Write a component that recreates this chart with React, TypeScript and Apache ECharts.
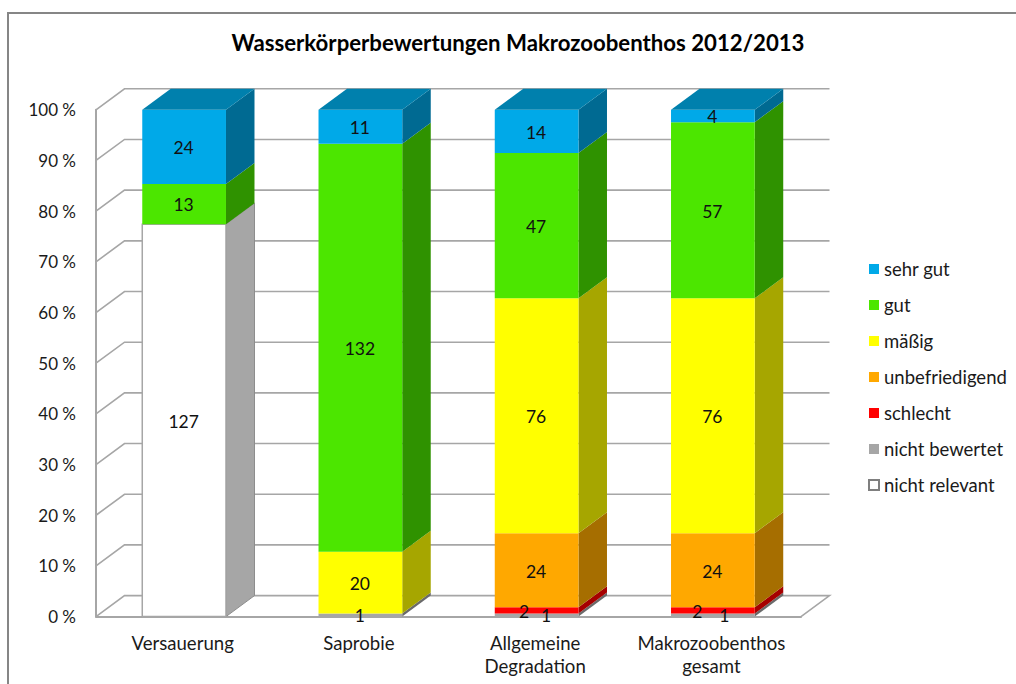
import React, { useEffect, useRef } from "react";
import * as echarts from "echarts";

const categories = ["Versauerung", "Saprobie", "Allgemeine\nDegradation", "Makrozoobenthos\ngesamt"];
const yTicks = [0, 10, 20, 30, 40, 50, 60, 70, 80, 90, 100];

const nichtRelevant = [127, 0, 0, 0];
const nichtBewertet = [0, 1, 1, 1];
const schlecht = [0, 0, 2, 2];
const unbefriedigend = [0, 0, 24, 24];
const maessig = [0, 20, 76, 76];
const gut = [13, 132, 47, 57];
const sehrGut = [24, 11, 14, 4];

// bottom to top
const stackNames = ["nicht relevant", "nicht bewertet", "schlecht", "unbefriedigend", "mäßig", "gut", "sehr gut"];
const stackValues = [nichtRelevant, nichtBewertet, schlecht, unbefriedigend, maessig, gut, sehrGut];
const frontColors = ["#ffffff", "#a6a6a6", "#ff0000", "#ffa800", "#ffff00", "#4ce600", "#00a9e8"];
const sideColors = ["#a6a6a6", "#6a6a6a", "#a60000", "#a66e00", "#a6a600", "#2f9200", "#006a92"];
const topColors = ["#c8c8c8", "#7d7d7d", "#c00000", "#c08000", "#c0c000", "#38ab00", "#0080ad"];
const legendOrder = ["sehr gut", "gut", "mäßig", "unbefriedigend", "schlecht", "nicht bewertet", "nicht relevant"];

const FONT = "Lato";
const DEPTH_X = 28.5;
const DEPTH_Y = 21;
const BAR_SHARE = 0.475;
const GRID_GREY = "#a6a6a6";
const TEXT = "#1a1a1a";

// sideways shift of the smallest labels: [series, category, dx]
const labelShifts: [number, number, number][] = [
  [1, 2, 10],
  [2, 2, -12],
  [1, 3, 12],
  [2, 3, -15],
];

const totals = categories.map((_, c) => stackValues.reduce((s, v) => s + v[c], 0));

function segments(seriesIdx: number) {
  return categories
    .map((_, c) => {
      const below = stackValues.slice(0, seriesIdx).reduce((s, v) => s + v[c], 0);
      const val = stackValues[seriesIdx][c];
      return [c, (below / totals[c]) * 100, ((below + val) / totals[c]) * 100, val];
    })
    .filter((row) => row[3] > 0);
}

export default function App() {
  const ref = useRef<HTMLDivElement>(null);
  useEffect(() => {
    const chart = echarts.init(ref.current!, null, { renderer: "svg" });

    const wallSeries: any = {
      type: "custom",
      name: "wall",
      silent: true,
      z: 1,
      data: yTicks.map((t) => [0, t]),
      encode: { x: 0, y: 1 },
      renderItem: (params: any, api: any) => {
        const cs = params.coordSys;
        const y = api.coord([0, api.value(1)])[1];
        const left = cs.x;
        const right = cs.x + cs.width;
        const lineStyle = { stroke: GRID_GREY, lineWidth: 1.6, fill: "none" };
        const pts: number[][] = [
          [left, y],
          [left + DEPTH_X, y - DEPTH_Y],
          [right + DEPTH_X, y - DEPTH_Y],
        ];
        if (api.value(1) === 0) pts.push([right, y]);
        return { type: "polyline", shape: { points: pts }, style: lineStyle };
      },
    };

    const barSeries: any[] = stackNames.map((name, si) => ({
      type: "custom",
      name,
      silent: true,
      z: 3 + si,
      itemStyle: si === 0
        ? { color: "#ffffff", borderColor: "#7f7f7f", borderWidth: 2 }
        : { color: frontColors[si] },
      data: segments(si),
      encode: { x: 0, y: [1, 2] },
      renderItem: (params: any, api: any) => {
        const c = api.value(0);
        const lo = api.coord([c, api.value(1)]);
        const hi = api.coord([c, api.value(2)]);
        const w = api.size([1, 0])[0] * BAR_SHARE;
        const x0 = lo[0] - w / 2;
        const x1 = lo[0] + w / 2;
        const yb = lo[1];
        const yt = hi[1];
        const white = si === 0;
        const children: any[] = [
          {
            type: "polygon",
            shape: { points: [[x1, yb], [x1 + DEPTH_X, yb - DEPTH_Y], [x1 + DEPTH_X, yt - DEPTH_Y], [x1, yt]] },
            style: { fill: sideColors[si], stroke: white ? "#8c8c8c" : sideColors[si], lineWidth: white ? 1 : 0 },
          },
          {
            type: "polygon",
            shape: { points: [[x0, yb], [x1, yb], [x1, yt], [x0, yt]] },
            style: { fill: frontColors[si], stroke: white ? GRID_GREY : frontColors[si], lineWidth: white ? 1.5 : 0 },
          },
        ];
        if (Math.abs(api.value(2) - 100) < 1e-6) {
          children.push({
            type: "polygon",
            shape: { points: [[x0, yt], [x1, yt], [x1 + DEPTH_X, yt - DEPTH_Y], [x0 + DEPTH_X, yt - DEPTH_Y]] },
            style: { fill: topColors[si] },
          });
        }
        return { type: "group", children };
      },
    }));

    const labelSeries: any[] = [
      {
        type: "custom",
        name: "labels",
        silent: true,
        z: 20,
        data: stackNames.flatMap((_, si) => segments(si).map((r) => [r[0], r[1], r[2], r[3], si])),
        encode: { x: 0, y: [1, 2] },
        renderItem: (_params: any, api: any) => {
          const c = api.value(0);
          const si = api.value(4);
          const p = api.coord([c, (api.value(1) + api.value(2)) / 2]);
          const shift = labelShifts.find((s) => s[0] === si && s[1] === c);
          return {
            type: "text",
            x: p[0] + (shift ? shift[2] : 0) - 0.5,
            y: p[1] + 0.8,
            style: {
              text: String(api.value(3)),
              fill: "#111111",
              font: `17.5px ${FONT}`,
              align: "center",
              verticalAlign: "middle",
            },
          };
        },
      },
    ];

    chart.setOption({
      animation: false,
      backgroundColor: "#ffffff",
      title: {
        text: "Wasserkörperbewertungen Makrozoobenthos 2012/2013",
        left: 513,
        top: 26,
        textAlign: "center",
        textStyle: { fontFamily: FONT, fontSize: 22.2, fontWeight: "bold", color: "#000000" },
      },
      grid: { left: 96, top: 109.8, width: 705, height: 506.8, containLabel: false },
      xAxis: {
        type: "category",
        data: categories,
        axisTick: { show: false },
        axisLine: { lineStyle: { color: GRID_GREY, width: 2 } },
        axisLabel: { fontFamily: FONT, fontSize: 18.6, color: TEXT, margin: 15, lineHeight: 23, interval: 0, padding: [0, 3, 0, 0] },
      },
      yAxis: {
        type: "value",
        min: 0,
        max: 100,
        interval: 10,
        splitLine: { show: false },
        axisTick: { show: false },
        axisLine: { show: true, lineStyle: { color: GRID_GREY, width: 2 } },
        axisLabel: { fontFamily: FONT, fontSize: 17, color: TEXT, margin: 20, formatter: "{value} %" },
      },
      legend: {
        orient: "vertical",
        left: 868,
        top: 259.5,
        padding: 0,
        itemWidth: 10,
        itemHeight: 10,
        itemGap: 17,
        icon: "rect",
        data: legendOrder,
        selectedMode: false,
        textStyle: { fontFamily: FONT, fontSize: 18.5, color: TEXT },
      },
      graphic: [
        {
          type: "polyline",
          shape: { points: [[8, 684], [8, 13], [1016, 13]] },
          style: { stroke: "#868686", lineWidth: 2, fill: "none" },
          silent: true,
        },
      ],
      series: [wallSeries, ...barSeries, ...labelSeries],
    });
    return () => chart.dispose();
  }, []);
  return <div ref={ref} style={{ position: "absolute", left: 0, top: 0, width: 1016, height: 684 }} />;
}
